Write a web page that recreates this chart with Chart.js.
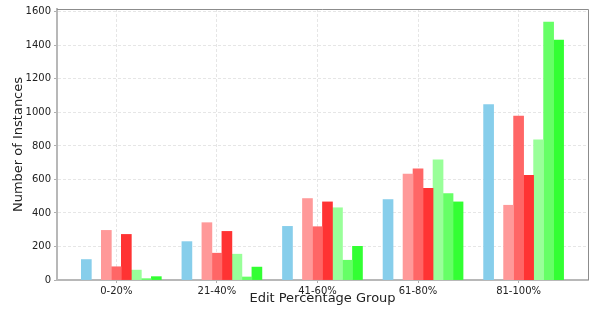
<!DOCTYPE html>
<html>
<head>
<meta charset="utf-8">
<script src="https://cdn.jsdelivr.net/npm/chart.js@4/dist/chart.umd.min.js"></script>
<style>
  html, body { margin: 0; padding: 0; background: #fff; }
  #wrap { width: 592px; height: 309px; }
</style>
</head>
<body>
<div id="wrap"><canvas id="chart"></canvas></div>
<script>
'use strict';

const groups = ['0-20%', '21-40%', '41-60%', '61-80%', '81-100%'];
const yTicks = [0, 200, 400, 600, 800, 1000, 1200, 1400, 1600];

// one value per group, left to right
const blueSeries    = [122, 229, 320, 480, 1047];
const salmonSeries  = [296, 342, 486, 632, 446];
const coralSeries   = [79, 160, 318, 664, 978];
const redSeries     = [272, 290, 466, 547, 624];
const paleGreen     = [59, 154, 431, 717, 836];
const midGreen      = [8, 18, 118, 516, 1539];
const brightGreen   = [20, 77, 201, 466, 1432];

function points(values) {
    return values.map((v, i) => ({x: i, y: v}));
}

function series(label, values, color) {
    return {
        label: label,
        data: points(values),
        backgroundColor: color,
        borderWidth: 0,
        barThickness: 10
    };
}

// empty slots keep the grouping offset of the original plot
function gap(label) {
    return {label: label, data: [], backgroundColor: 'transparent', barThickness: 10};
}

const frame = {
    id: 'frame',
    afterDraw(chart) {
        const {ctx, chartArea: a} = chart;
        ctx.save();
        ctx.strokeStyle = '#8c8c8c';
        ctx.lineWidth = 1;
        ctx.beginPath();
        ctx.moveTo(a.left, a.top + 0.5);
        ctx.lineTo(a.right + 0.5, a.top + 0.5);
        ctx.lineTo(a.right + 0.5, a.bottom);
        ctx.stroke();
        ctx.restore();
    }
};

const font = {family: 'DejaVu Sans', size: 10};
const titleFont = {family: 'DejaVu Sans', size: 13};

new Chart(document.getElementById('chart').getContext('2d'), {
    type: 'bar',
    data: {
        datasets: [
            gap('pad'),
            series('Series 1', blueSeries, '#87ceeb'),
            gap('empty'),
            series('Series 2', salmonSeries, '#ff9999'),
            series('Series 3', coralSeries, '#ff6666'),
            series('Series 4', redSeries, '#ff3333'),
            series('Series 5', paleGreen, '#99ff99'),
            series('Series 6', midGreen, '#66ff66'),
            series('Series 7', brightGreen, '#33ff33')
        ]
    },
    options: {
        responsive: true,
        maintainAspectRatio: false,
        animation: false,
        layout: {padding: {top: 7, right: 4, left: 0, bottom: 0}},
        plugins: {legend: {display: false}, tooltip: {enabled: false}},
        scales: {
            x: {
                type: 'linear',
                offset: false,
                min: -0.59,
                max: 4.69,
                afterFit: s => { s.height = 29; },
                afterBuildTicks: s => { s.ticks = groups.map((g, i) => ({value: i})); },
                ticks: {
                    font: font,
                    color: '#222',
                    padding: 2,
                    maxRotation: 0,
                    autoSkip: false,
                    callback: v => groups[v]
                },
                grid: {offset: false, color: '#e0e0e0', lineWidth: 0.8, tickLength: 3, tickColor: '#999', tickBorderDash: []},
                border: {color: '#b8b8b8', width: 2, dash: [3, 2]},
                title: {display: true, text: 'Edit Percentage Group', font: titleFont, color: '#222', padding: {top: 0, bottom: 3}}
            },
            y: {
                min: 0,
                max: 1617,
                afterFit: s => { s.width = 57; },
                afterBuildTicks: s => { s.ticks = yTicks.map(v => ({value: v})); },
                ticks: {font: font, color: '#222', padding: 3, callback: v => String(v)},
                grid: {color: '#e0e0e0', lineWidth: 0.8, tickLength: 3, tickColor: '#999', tickBorderDash: []},
                border: {color: '#b8b8b8', width: 2, dash: [3, 2]},
                title: {display: true, text: 'Number of Instances', font: titleFont, color: '#222', padding: {top: 11, bottom: 0}}
            }
        }
    },
    plugins: [frame]
});
</script>
</body>
</html>
